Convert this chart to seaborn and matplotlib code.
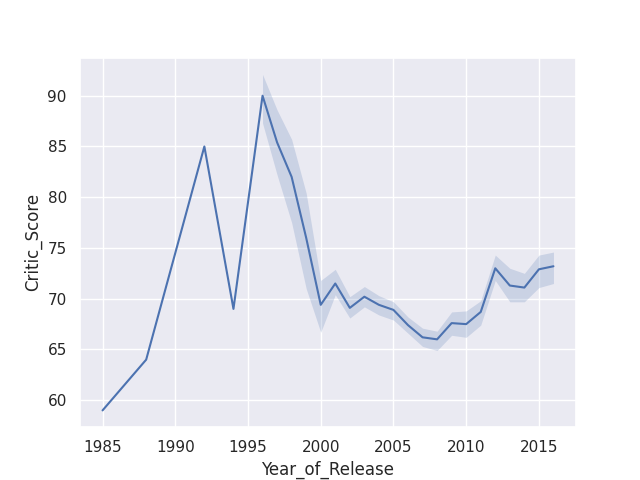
import matplotlib
matplotlib.use("Agg")
import matplotlib.pyplot as plt
import seaborn as sns
import pandas as pd
import numpy as np

years = [1985, 1988, 1992, 1994, 1996, 1997, 1998, 1999, 2000, 2001, 2002, 2003,
         2004, 2005, 2006, 2007, 2008, 2009, 2010, 2011, 2012, 2013, 2014, 2015, 2016]
mean_score = [59.0, 64.0, 85.0, 69.0, 90.0, 85.4, 82.0, 76.0, 69.4, 71.5, 69.1, 70.2,
              69.4, 68.9, 67.4, 66.2, 66.0, 67.6, 67.5, 68.7, 73.0, 71.3, 71.1, 72.9, 73.2]
ci_low = [None, None, None, None, 87.3, 82.2, 77.5, 71.0, 66.7, 70.4, 68.1, 69.2,
          68.4, 67.9, 66.6, 65.3, 64.9, 66.4, 66.2, 67.4, 71.8, 69.7, 69.7, 71.1, 71.5]
ci_high = [None, None, None, None, 92.1, 88.6, 85.7, 80.4, 71.8, 72.9, 70.2, 71.2,
           70.3, 69.7, 68.2, 67.1, 66.8, 68.7, 68.8, 69.8, 74.3, 73.0, 72.5, 74.3, 74.6]

df = pd.DataFrame({"Year_of_Release": years, "Critic_Score": mean_score,
                   "low": ci_low, "high": ci_high})

sns.set_theme(style="darkgrid")
fig, ax = plt.subplots(figsize=(6.4, 4.8), dpi=100)
sns.lineplot(data=df, x="Year_of_Release", y="Critic_Score", ax=ax)
band = df.dropna()
color = ax.lines[0].get_color()
ax.fill_between(band["Year_of_Release"], band["low"].astype(float),
                band["high"].astype(float), color=color, alpha=0.2, linewidth=0)
ax.set_xticks([1985, 1990, 1995, 2000, 2005, 2010, 2015])
ax.set_yticks([60, 65, 70, 75, 80, 85, 90])
fig.savefig("out.png", dpi=100)
